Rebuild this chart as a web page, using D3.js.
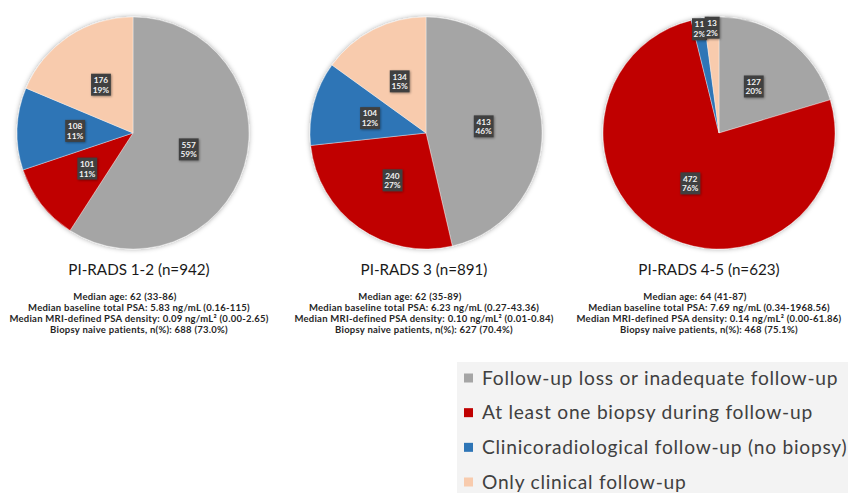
<!DOCTYPE html>
<html>
<head>
<meta charset="utf-8">
<script src="https://cdn.jsdelivr.net/npm/d3@7/dist/d3.min.js"></script>
<style>
  html, body { margin: 0; padding: 0; background: #fff; }
  svg { display: block; }
</style>
</head>
<body>
<svg id="chart" width="848" height="493"></svg>
<script>
// Follow-up outcome categories (slice order, clockwise from 12 o'clock)
const categories = [
  "Follow-up loss or inadequate follow-up",
  "At least one biopsy during follow-up",
  "Clinicoradiological follow-up (no biopsy)",
  "Only clinical follow-up"
];
const colors = ["#a5a5a5", "#c00000", "#2e75b6", "#f8cbad"];

// PI-RADS groups
const groups = ["PI-RADS 1-2 (n=942)", "PI-RADS 3 (n=891)", "PI-RADS 4-5 (n=623)"];

// Patient counts per category, one array per group
const countsPirads12 = [557, 101, 108, 176];
const countsPirads3 = [413, 240, 104, 134];
const countsPirads45 = [127, 472, 11, 13];

// Baseline characteristics per group
const medianAge = ["62 (33-86)", "62 (35-89)", "64 (41-87)"];
const medianPSA = ["5.83 ng/mL (0.16-115)", "6.23 ng/mL (0.27-43.36)", "7.69 ng/mL (0.34-1968.56)"];
const medianDensity = ["0.09 ng/mL\u00B2 (0.00-2.65)", "0.10 ng/mL\u00B2 (0.01-0.84)", "0.14 ng/mL\u00B2 (0.00-61.86)"];
const biopsyNaive = ["688 (73.0%)", "627 (70.4%)", "468 (75.1%)"];

const allCounts = [countsPirads12, countsPirads3, countsPirads45];

const svg = d3.select("#chart");
const font = "Lato, 'Open Sans', sans-serif";

// Soft shadows for pies and label boxes
const defs = svg.append("defs");
const pieShadow = defs.append("filter").attr("id", "pieShadow")
  .attr("x", "-20%").attr("y", "-20%").attr("width", "140%").attr("height", "140%");
pieShadow.append("feDropShadow").attr("dx", 0).attr("dy", 0)
  .attr("stdDeviation", 2.5).attr("flood-color", "#000").attr("flood-opacity", 0.35);
const boxShadow = defs.append("filter").attr("id", "boxShadow")
  .attr("x", "-30%").attr("y", "-30%").attr("width", "160%").attr("height", "160%");
boxShadow.append("feDropShadow").attr("dx", 0.8).attr("dy", 0.8)
  .attr("stdDeviation", 0.8).attr("flood-color", "#000").attr("flood-opacity", 0.4);

const radius = 116;
const xPie = d3.scalePoint().domain(groups).range([133, 719]);
const xText = d3.scalePoint().domain(groups).range([139, 709]);
const cy = 133;

const pie = d3.pie().sort(null).value(d => d);
const arc = d3.arc().innerRadius(0).outerRadius(radius);
const labelArc = d3.arc().innerRadius(0).outerRadius(radius);
const edgeArc = d3.arc().innerRadius(radius * 0.91).outerRadius(radius * 0.91);

groups.forEach((g, gi) => {
  const values = allCounts[gi];
  const total = d3.sum(values);
  const cx = xPie(g);
  const gPie = svg.append("g").attr("transform", `translate(${cx},${cy})`);

  const arcs = pie(values);
  gPie.append("g").attr("filter", "url(#pieShadow)")
    .selectAll("path").data(arcs).join("path")
    .attr("d", arc)
    .attr("fill", (d, i) => colors[i])
    .attr("stroke", "#ffffff")
    .attr("stroke-opacity", 0.6)
    .attr("stroke-width", 0.6);

  // Value + percentage labels in dark boxes
  arcs.forEach((d, i) => {
    const share = d.value / total;
    const [lx, ly] = share < 0.05 ? edgeArc.centroid(d) : labelArc.centroid(d);
    const lab = gPie.append("g").attr("transform", `translate(${lx},${ly})`);
    const box = lab.append("rect").attr("fill", "#3f3f3f").attr("filter", "url(#boxShadow)");
    const txt = lab.append("text")
      .attr("text-anchor", "middle")
      .attr("font-family", font)
      .attr("font-weight", "bold")
      .attr("font-size", 8.3)
      .attr("fill", "#f2f2f2");
    txt.append("tspan").attr("x", 0).attr("y", -1.8).text(d.value);
    txt.append("tspan").attr("x", 0).attr("y", 8).text(Math.round(share * 100) + "%");
    const bb = txt.node().getBBox();
    box.attr("x", bb.x - 1.6).attr("y", bb.y - 1.2)
      .attr("width", bb.width + 3.2).attr("height", bb.height + 2.2);
  });

  // Group title
  const tx = xText(g);
  svg.append("text")
    .attr("x", tx).attr("y", 275)
    .attr("text-anchor", "middle")
    .attr("font-family", font)
    .attr("font-size", 15.2)
    .attr("fill", "#1a1a1a")
    .text(g);

  // Baseline characteristics
  const lines = [
    "Median age: " + medianAge[gi],
    "Median baseline total PSA: " + medianPSA[gi],
    "Median MRI-defined PSA density: " + medianDensity[gi],
    "Biopsy naive patients, n(%): " + biopsyNaive[gi]
  ];
  svg.append("g").selectAll("text").data(lines).join("text")
    .attr("x", (d, i) => i === 0 ? tx - 14 : tx)
    .attr("y", (d, i) => 299.5 + i * 11.3)
    .attr("text-anchor", "middle")
    .attr("font-family", font)
    .attr("font-weight", "bold")
    .attr("font-size", 9.5)
    .attr("letter-spacing", 0.25)
    .attr("fill", "#262626")
    .text(d => d);
});

// Legend
const legend = svg.append("g");
legend.append("rect")
  .attr("x", 457).attr("y", 362).attr("width", 391).attr("height", 131)
  .attr("fill", "#f3f3f3");
const rowY = d3.scalePoint().domain(categories).range([378, 482]);
const items = legend.selectAll("g.item").data(categories).join("g")
  .attr("class", "item")
  .attr("transform", d => `translate(464,${rowY(d)})`);
items.append("rect")
  .attr("x", 0).attr("y", -4.5).attr("width", 9).attr("height", 9)
  .attr("fill", (d, i) => colors[i]);
items.append("text")
  .attr("x", 18).attr("y", 6.5)
  .attr("font-family", font)
  .attr("font-size", 19.2)
  .attr("letter-spacing", 0.75)
  .attr("fill", "#404040")
  .text(d => d);
</script>
</body>
</html>
